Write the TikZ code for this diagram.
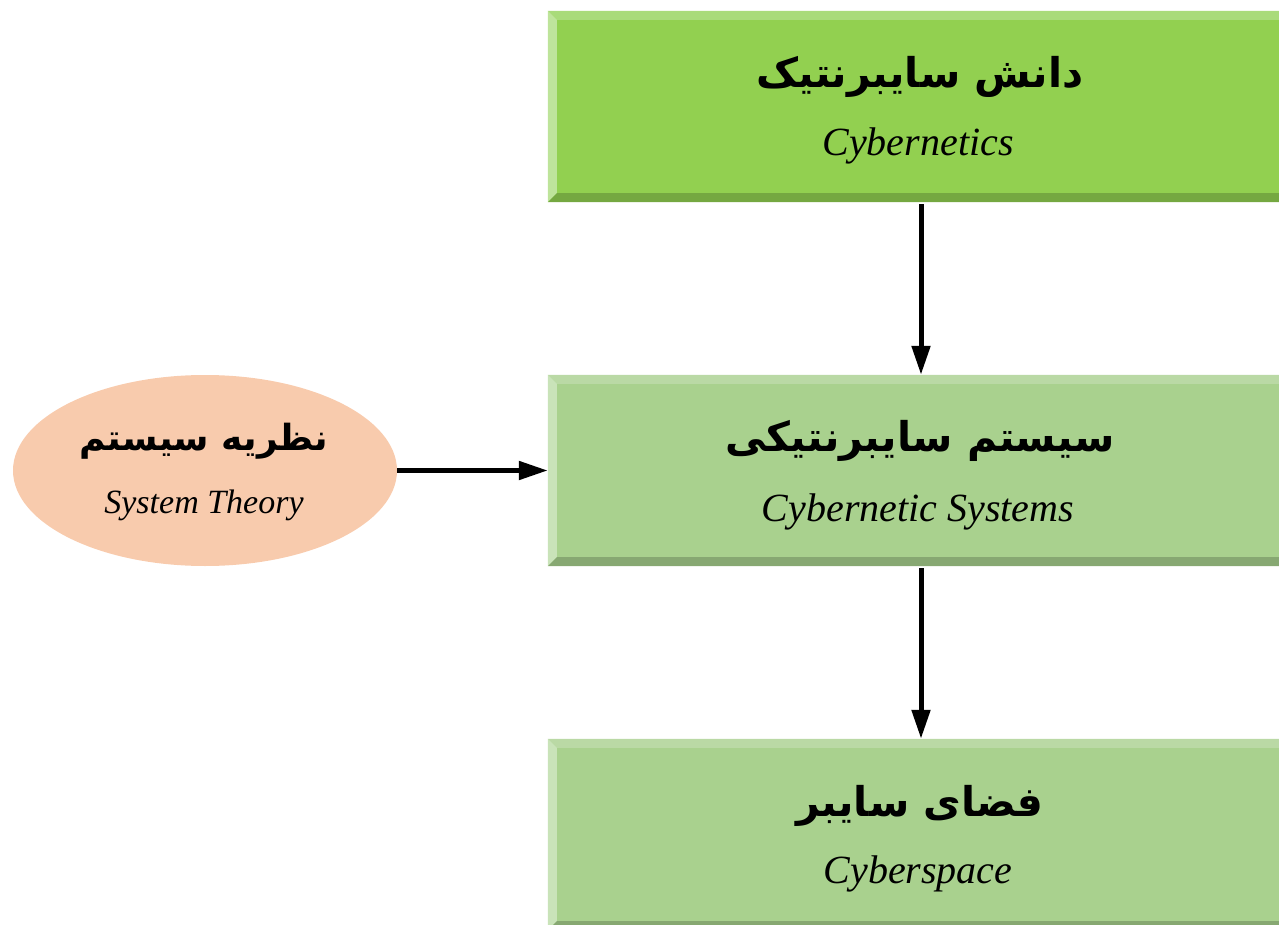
\documentclass[tikz,border=0pt]{standalone}
\usepackage{fontspec}
\setmainfont{Liberation Serif}
\newfontfamily\arabicfont[Script=Arabic]{DejaVu Sans}
\usetikzlibrary{arrows.meta,shapes.geometric}
\TeXXeTstate=1
\definecolor{gMain}{HTML}{92D050}
\definecolor{gTop}{HTML}{A9DB7A}
\definecolor{gLeft}{HTML}{BEE49B}
\definecolor{gBot}{HTML}{75A841}
\definecolor{lMain}{HTML}{A9D18E}
\definecolor{lTop}{HTML}{BAD9A5}
\definecolor{lLeft}{HTML}{C9E3B9}
\definecolor{lBot}{HTML}{87A872}
\definecolor{peach}{HTML}{F8CBAD}
\newcommand\mybevel[4]{%
  \fill[#2] (#1.north west) -- (#1.north east) -- ([shift={(0,9)}]#1.north east) -- ([shift={(9,9)}]#1.north west) -- cycle;
  \fill[#3] (#1.north west) -- ([shift={(9,9)}]#1.north west) -- ([shift={(9,-9)}]#1.south west) -- (#1.south west) -- cycle;
  \fill[#4] (#1.south west) -- ([shift={(9,-9)}]#1.south west) -- ([shift={(0,-9)}]#1.south east) -- (#1.south east) -- cycle;
}
\tikzset{
  boxshape/.style={rectangle, inner sep=0pt, minimum width=745pt, minimum height=191pt},
  ar/.style={font=\arabicfont\bfseries\fontsize{41}{48}\selectfont, anchor=base, inner sep=0pt},
  arsmall/.style={font=\arabicfont\bfseries\fontsize{36}{42}\selectfont, anchor=base, inner sep=0pt},
  en/.style={font=\itshape\fontsize{40}{46}\selectfont, anchor=base, inner sep=0pt},
  ensmall/.style={font=\itshape\fontsize{34}{40}\selectfont, anchor=base, inner sep=0pt},
  arr/.style={line width=5pt, -{Triangle[length=29pt,width=18pt]}},
}
\begin{document}
\begin{tikzpicture}[x=1pt,y=-1pt]
\useasboundingbox (0,0) rectangle (1279,925);
\begin{scope}
\clip (0,0) rectangle (1279,925);
\node[boxshape, fill=gMain] (cyb) at (920.5,106.5) {};
\mybevel{cyb}{gTop}{gLeft}{gBot}
\node[boxshape, fill=lMain] (sys) at (920.5,470.5) {};
\mybevel{sys}{lTop}{lLeft}{lBot}
\node[boxshape, fill=lMain] (spc) at (920.5,834.5) {};
\mybevel{spc}{lTop}{lLeft}{lBot}
\end{scope}
\node[ellipse, fill=peach, inner sep=0pt, minimum width=384pt, minimum height=191pt] (thy) at (205,470.5) {};

\node[ar] (t1a) at (920,88) {\beginR دانش سایبرنتیک\endR};
\node[en] (t1b) at (918,156) {Cybernetics};
\node[ar] (t2a) at (920,451) {\beginR سیستم سایبرنتیکی\endR};
\node[en] (t2b) at (918,521) {Cybernetic Systems};
\node[ar] (t3a) at (920,816) {\beginR فضای سایبر\endR};
\node[en] (t3b) at (918,883) {Cyberspace};
\node[arsmall] (t4a) at (204,450) {\beginR نظریه سیستم\endR};
\node[ensmall] (t4b) at (204,513) {System Theory};

\coordinate (ax) at (921,0);
\draw[arr, shorten <=2pt] (cyb.south -| ax) -- (sys.north -| ax);
\draw[arr, shorten <=2pt] (sys.south -| ax) -- (spc.north -| ax);
\draw[arr] (thy.east) -- (sys.west);
\end{tikzpicture}
\end{document}
